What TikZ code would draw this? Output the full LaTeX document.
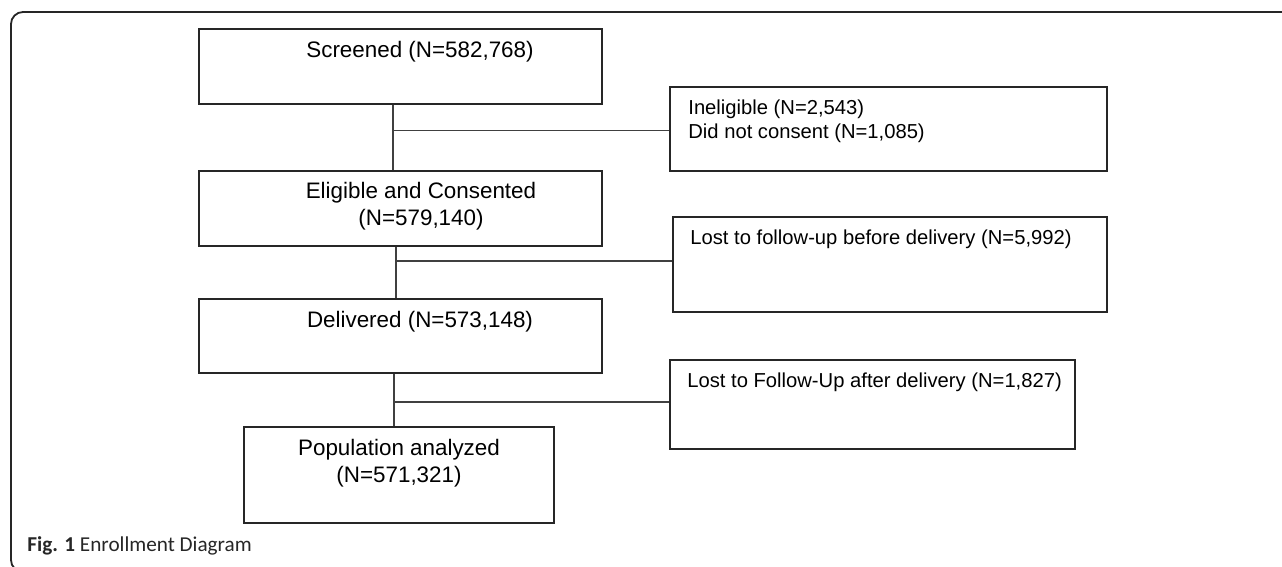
\documentclass[tikz,border=0pt]{standalone}
\usepackage{fontspec}
\setmainfont{Liberation Sans}
\newfontfamily\capfont{Carlito}

\begin{document}
\begin{tikzpicture}[x=0.5pt,y=-0.5pt,
	box/.style={rectangle,draw=black!85,line width=0.6pt,inner sep=0pt},
	txt/.style={inner sep=0pt,font=\fontsize{11.2}{13.5}\selectfont,align=center},
	side/.style={inner sep=0pt,font=\fontsize{10.1}{12}\selectfont,align=left,anchor=west},
	link/.style={draw=black!75,line width=0.6pt}]
	\clip (0,0) rectangle (1282,567);
	\draw[black!85,line width=0.9pt,rounded corners=6pt] (1290,12) -- (11,12) -- (11,572) -- (1290,572);
	\node (scr) at (400.5,66.5) [box,minimum width=201.5pt,minimum height=37.5pt] {};
	\node (scrtxt) at (420,52) [txt] {Screened (N=582,768)};
	\node (inel) at (888.5,129) [box,minimum width=218.5pt,minimum height=42pt] {};
	\node (ineltxt) at (688,121) [side] {Ineligible (N=2,543)\\Did not consent (N=1,085)};
	\node (elig) at (400.5,208.5) [box,minimum width=201.5pt,minimum height=37.5pt] {};
	\node (eligtxt) at (421,206.5) [txt] {Eligible and Consented\\(N=579,140)};
	\node (lostb) at (890,264.5) [box,minimum width=217pt,minimum height=47.5pt] {};
	\node (lostbtxt) at (690,239) [side] {Lost to follow-up before delivery (N=5,992)};
	\node (deliv) at (400.5,336) [box,minimum width=201.5pt,minimum height=37pt] {};
	\node (delivtxt) at (420,322) [txt] {Delivered (N=573,148)};
	\node (losta) at (872.5,404.5) [box,minimum width=202.5pt,minimum height=44.5pt] {};
	\node (lostatxt) at (687,382) [side] {Lost to Follow-Up after delivery (N=1,827)};
	\node (pop) at (399,475) [box,minimum width=155pt,minimum height=48pt] {};
	\node (poptxt) at (399,463) [txt] {Population analyzed\\(N=571,321)};
	\coordinate (j1) at (393,130.7);
	\coordinate (j2) at (396,261);
	\coordinate (j3) at (394,402);
	\draw[link] (scr.south -| j1) -- (elig.north -| j1);
	\draw[link] (j1) -- (j1 -| inel.west);
	\draw[link] (elig.south -| j2) -- (deliv.north -| j2);
	\draw[link] (j2) -- (j2 -| lostb.west);
	\draw[link] (deliv.south -| j3) -- (pop.north -| j3);
	\draw[link] (j3) -- (j3 -| losta.west);
	\node (cap) at (27,551) [anchor=base west,inner sep=0pt,font=\capfont\fontsize{10.6}{12}\selectfont,text=black!85] {\textbf{Fig. 1} Enrollment Diagram};
\end{tikzpicture}
\end{document}
